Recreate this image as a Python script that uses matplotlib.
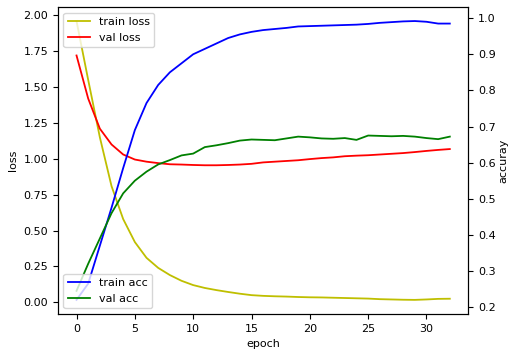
import matplotlib
matplotlib.use("Agg")
import matplotlib.pyplot as plt
import numpy as np

epochs = np.arange(33)

train_loss = [1.96, 1.55, 1.15, 0.81, 0.58, 0.42, 0.31, 0.24, 0.19, 0.15,
              0.12, 0.10, 0.085, 0.072, 0.06, 0.05, 0.045, 0.042, 0.04, 0.037,
              0.035, 0.034, 0.032, 0.03, 0.028, 0.026, 0.022, 0.02, 0.018, 0.017,
              0.02, 0.024, 0.025]
val_loss = [1.72, 1.42, 1.21, 1.10, 1.03, 0.995, 0.98, 0.97, 0.962, 0.96,
            0.957, 0.955, 0.955, 0.957, 0.96, 0.965, 0.975, 0.98, 0.985, 0.99,
            0.998, 1.005, 1.01, 1.018, 1.022, 1.025, 1.03, 1.035, 1.04, 1.047,
            1.055, 1.062, 1.068]
train_acc = [0.22, 0.265, 0.37, 0.475, 0.585, 0.69, 0.765, 0.815, 0.85, 0.875,
             0.9, 0.915, 0.93, 0.945, 0.955, 0.962, 0.967, 0.97, 0.973, 0.977,
             0.978, 0.979, 0.98, 0.981, 0.982, 0.984, 0.987, 0.989, 0.991, 0.992,
             0.99, 0.985, 0.985]
val_acc = [0.245, 0.32, 0.39, 0.46, 0.515, 0.55, 0.575, 0.595, 0.607, 0.62,
           0.625, 0.643, 0.648, 0.654, 0.661, 0.664, 0.663, 0.662, 0.667, 0.672,
           0.67, 0.667, 0.666, 0.668, 0.663, 0.675, 0.674, 0.673, 0.674, 0.672,
           0.668, 0.665, 0.672]

plt.rcParams["font.size"] = 8

fig, ax1 = plt.subplots(figsize=(5.12, 3.55), dpi=100)
fig.subplots_adjust(left=0.113, right=0.915, bottom=0.116, top=0.98)

ax1.plot(epochs, train_loss, "y", lw=1.3, label="train loss")
ax1.plot(epochs, val_loss, "r", lw=1.3, label="val loss")
ax1.set_xlabel("epoch")
ax1.set_ylabel("loss")
ax1.legend(loc="upper left")

ax2 = ax1.twinx()
ax2.plot(epochs, train_acc, "b", lw=1.3, label="train acc")
ax2.plot(epochs, val_acc, "g", lw=1.3, label="val acc")
ax2.set_ylabel("accuray", labelpad=2)
ax2.legend(loc="lower left")

fig.savefig("out.png", dpi=100)
